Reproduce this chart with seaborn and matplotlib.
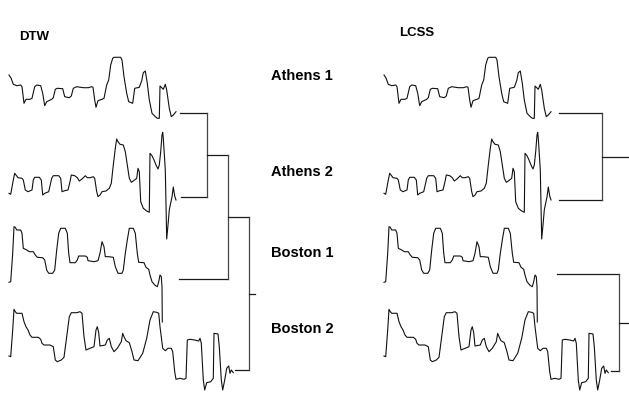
import numpy as np
import pandas as pd
import seaborn as sns
import matplotlib
matplotlib.use("Agg")
import matplotlib.pyplot as plt

# Time series: sample position and amplitude.
athens1_t = [0, 2, 4.3, 7.7, 11.7, 13, 15, 17, 21, 23, 25.7, 27.7, 31.7, 33.7, 35.7,
             37.7, 42.7, 44.3, 46.3, 48.3, 53.7, 55.7, 60.3, 62.3, 64.3, 67.7, 74.3,
             79.3, 82.7, 84, 85.7, 87, 89, 93, 95, 97.7, 99.7, 101.7, 103.7, 105,
             111.7, 113, 115, 117.7, 119.7, 123.7, 125.7, 130.3, 132.7, 134.3, 136.3,
             138.3, 140.3, 143, 146.3, 148.3, 150.3, 151, 152.3, 154.3, 156.3, 157.7,
             160.3, 162.3, 164.3, 167]
athens1_v = [45, 42, 35.7, 34.3, 35, 33.3, 16.7, 20.7, 20.7, 21.7, 33.3, 35, 34.3, 26.7,
             14.3, 18.3, 20.7, 22.3, 30.7, 31.7, 31.3, 23.3, 22.3, 24, 31.7, 33.3, 32.3,
             32.3, 33.3, 32.7, 20, 12.7, 19.3, 20.7, 21.7, 35, 40, 55, 61.7, 62.7, 62.7,
             60, 43.3, 26.7, 18.3, 16.7, 31.7, 32.7, 39.3, 47.3, 49, 36.7, 20, 6.7, 3.3,
             1.7, 1.7, 34, 32.7, 30.7, 35.7, 30, 11.7, 3.3, 5, 8.3]

athens2_t = [0, 1.7, 4.3, 5.7, 7, 9, 13, 14.3, 16.3, 19, 23, 24.3, 25.7, 30.3, 32.3,
             33.7, 35.7, 39.7, 42.7, 44.3, 49.7, 51.7, 53, 55.7, 59, 61, 62.3, 65.7,
             68.3, 70.3, 73, 76.3, 78.3, 81, 84.3, 85.7, 87.7, 89, 91, 93, 97, 100.3,
             102.3, 104.3, 106.3, 107.7, 109, 111, 114.3, 116.3, 118.3, 120.3, 122.3,
             124.3, 127.7, 129, 130.3, 131.7, 134.3, 137.7, 140.3, 141, 143, 145, 147,
             149, 150.3, 151.7, 153, 153.7, 154.3, 156.3, 157.7, 159, 160.3, 161.7, 163,
             164.3, 165.7, 167]
athens2_v = [46.7, 45.7, 60, 66.7, 65, 62.3, 61.7, 60, 50, 48.3, 50, 60, 62.7, 62.7, 60,
             45, 46.7, 48.3, 61.7, 64.3, 64.3, 61.7, 48.3, 49.3, 50, 58.3, 65, 64.3, 62.3,
             59, 61, 64.3, 62.3, 62.3, 63.3, 61.7, 48.3, 43.3, 45, 48.3, 49, 51.7, 56.7,
             75, 91.7, 101, 98.3, 95.7, 95, 88.3, 75, 61.7, 57.7, 59, 61.7, 71.7, 68.3,
             38.3, 31.7, 29, 27.7, 86.7, 84.3, 80, 75, 71, 75, 88.3, 105, 107.7, 101.7,
             70, 1, 15, 30, 37, 43, 53, 44, 40]

boston1_t = [0, 1.7, 3.7, 5, 6.3, 7.7, 11.7, 13, 14.3, 17.7, 20.3, 24.3, 26.3, 28.3,
             33.7, 35.7, 37.7, 39.7, 43.7, 45.7, 47.7, 49.7, 51.7, 56.3, 58.3, 59.7, 61,
             66.3, 68.3, 69.7, 76.3, 78.3, 79, 85, 89, 91, 93, 95, 96.3, 99.7, 104.3,
             106.3, 109, 113, 114.3, 116.3, 118.3, 120.3, 124.3, 126.3, 128.3, 129.7,
             135, 137, 139.7, 141, 143, 145.7, 148.3, 149.7, 151, 152.3, 153, 153.3]
boston1_v = [42.7, 43.3, 71.7, 98.3, 97.7, 95, 95, 91.7, 76.7, 75, 73.3, 73.3, 70, 67.7,
             67.3, 65, 55, 51.7, 51.7, 55, 75, 91.7, 96.7, 96.7, 91.7, 71.7, 62.3, 62.3,
             65, 69, 69, 67.7, 64.3, 63.3, 64.3, 71.7, 83.3, 78.3, 68.3, 68.3, 67.7, 58.3,
             51.7, 51.7, 55, 71.7, 85, 96.7, 96.7, 91.7, 71.7, 62.7, 62.3, 57.7, 55.7, 50,
             43.3, 40, 38.3, 43.3, 50, 48.3, 38.3, 3]

boston2_t = [0, 1.7, 3.7, 5, 6.3, 7.7, 13, 15, 17, 19, 21, 23, 29.3, 31.7, 33, 35, 41,
             44.3, 46.3, 48.3, 52.3, 55, 57.7, 60.3, 62.3, 67.7, 71, 73, 75, 77, 81, 85,
             87, 88.3, 89.7, 91, 96.3, 98.3, 100.3, 102.3, 105, 108.3, 112.3, 113.7, 115,
             117, 120.3, 123, 125, 129, 133.7, 137.7, 141, 144.3, 147.7, 149.7, 151,
             153.7, 156.3, 159, 162.3, 163.7, 165.7, 167, 171, 175, 177, 178.3, 181,
             185.7, 189.7, 191, 192.3, 194.3, 195.7, 197.7, 201.7, 204.3, 205, 209,
             210.3, 212.3, 213.7, 215.7, 217.7, 219.7, 221, 222.3, 224.3]
boston2_v = [36, 35.3, 62, 82.7, 80.3, 78.7, 78.7, 70.3, 65.3, 62, 57, 54.7, 54.7, 52.7,
             48.7, 47, 47, 45.3, 32, 30.3, 32, 34.7, 55.3, 75.3, 79.3, 79.3, 80.3, 78.7,
             55.3, 42, 43.7, 45.3, 62, 65.3, 59.3, 46, 47, 52, 53.7, 45.3, 40.3, 43.7,
             50.3, 58.7, 55.3, 51.3, 49.3, 40.3, 32, 31.3, 38.7, 53.7, 72, 80.3, 79.7,
             78.7, 65.3, 43.7, 41.3, 43.7, 43.7, 40.3, 20.3, 12.7, 13.7, 12.7, 13.7, 52,
             52.7, 52, 51, 53.7, 48.7, 12, 2, 9.3, 10.3, 13.7, 58.7, 58, 45.3, 12, 2, 12,
             23.7, 26, 18.7, 22, 19.3]

series_names = ["Athens 1", "Athens 2", "Boston 1", "Boston 2"]
series_t = [athens1_t, athens2_t, boston1_t, boston2_t]
series_v = [athens1_v, athens2_v, boston1_v, boston2_v]

# Hierarchical clustering results: (left, right, merge distance), scipy style ids
dtw_merges = [(0, 1, 27), (4, 2, 48), (5, 3, 69)]
lcss_merges = [(0, 1, 43), (2, 3, 60), (4, 5, 110)]

# Layout (pixels on a 629x394 canvas)
row_base = [120, 240, 325, 392]
panel_x0 = [9, 384]
panel_titles = ["DTW", "LCSS"]
title_pos = [(34, 37), (417, 33)]
label_y = [76, 172, 253, 329]
dtw_leaf_x = [180, 181, 179, 235]
dtw_leaf_y = [113, 197, 279, 370]
dtw_origin = 180
lcss_leaf_x = [559, 559, 557, 611]
lcss_leaf_y = [113, 200, 274, 371]
lcss_origin = 559

fig = plt.figure(figsize=(6.29, 3.94), dpi=100)
ax = fig.add_axes([0, 0, 1, 1])
ax.axis("off")

rows = []
for p, x0 in enumerate(panel_x0):
    for name, t, v, base in zip(series_names, series_t, series_v, row_base):
        rows.append(pd.DataFrame({
            "x": x0 + np.array(t),
            "y": base - np.array(v),
            "trace": f"{panel_titles[p]} {name}",
        }))
df = pd.concat(rows, ignore_index=True)
sns.lineplot(data=df, x="x", y="y", units="trace", estimator=None, sort=False,
             color="#111111", lw=0.8, ax=ax, legend=False)
ax.set_xlim(0, 629)
ax.set_ylim(394, 0)
ax.axis("off")


def draw_dendrogram(merges, leaf_x, leaf_y, origin, stub):
    nodes = [(x, y) for x, y in zip(leaf_x, leaf_y)]
    for a, b, d in merges:
        mx = origin + d
        ya, yb = nodes[a][1], nodes[b][1]
        ax.plot([nodes[a][0], mx], [ya, ya], color="#1a1a1a", lw=0.9)
        ax.plot([nodes[b][0], mx], [yb, yb], color="#1a1a1a", lw=0.9)
        ax.plot([mx, mx], [ya, yb], color="#444444", lw=0.9)
        nodes.append((mx, (ya + yb) / 2))
    rx, ry = nodes[-1]
    ax.plot([rx, rx + stub], [ry, ry], color="#1a1a1a", lw=0.9)


draw_dendrogram(dtw_merges, dtw_leaf_x, dtw_leaf_y, dtw_origin, 6)
draw_dendrogram(lcss_merges, lcss_leaf_x, lcss_leaf_y, lcss_origin, 6)

for title, (tx, ty) in zip(panel_titles, title_pos):
    ax.text(tx, ty, title, ha="center", va="center", fontsize=9.5,
            fontweight="bold", family="Liberation Sans")
for name, ly in zip(series_names, label_y):
    ax.text(302, ly, name, ha="center", va="center", fontsize=10.5,
            fontweight="bold", family="Liberation Sans")

fig.savefig("out.png", dpi=100)
